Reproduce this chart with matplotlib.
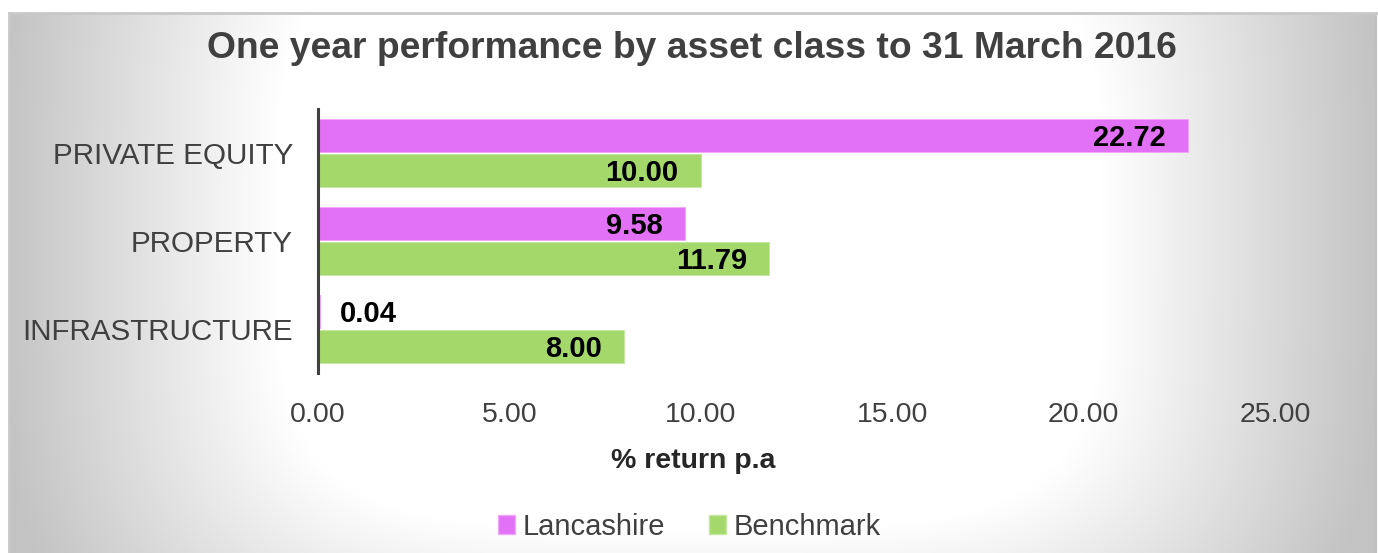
import numpy as np
import matplotlib
matplotlib.use("Agg")
import matplotlib.pyplot as plt
from matplotlib.patches import Patch

plt.rcParams['font.family'] = ['Liberation Sans', 'DejaVu Sans']

categories = ["PRIVATE EQUITY", "PROPERTY", "INFRASTRUCTURE"]
lancashire = [22.72, 9.58, 0.04]
benchmark = [10.00, 11.79, 8.00]
series_names = ["Lancashire", "Benchmark"]
xticks = [0, 5, 10, 15, 20, 25]
title = "One year performance by asset class to 31 March 2016"
xlabel = "% return p.a"

W, H = 1378, 553
fig = plt.figure(figsize=(W / 100, H / 100), dpi=100, facecolor="white")

# background gradient panel
bx0, by_top, bx1 = 9, 13, 1376
bg = fig.add_axes([bx0 / W, 0, (bx1 - bx0) / W, 1 - by_top / H])
bg.set_axis_off()
xs = np.linspace(bx0, bx1, 700)
ys = np.linspace(by_top, H, 300)
X, Y = np.meshgrid(xs, ys)
cx, cy = 690, 230
A, B = 690, 500
p = 4
r = ((np.abs(X - cx) / A) ** p + (np.abs(Y - cy) / B) ** p) ** (1 / p)
c = 255 - 60 * np.clip((r - 0.6) / 0.4, 0, 1)
img = np.dstack([c, c, c]) / 255.0
bg.imshow(img, aspect="auto", extent=[0, 1, 0, 1], interpolation="bilinear")
bg.set_xlim(0, 1)
bg.set_ylim(0, 1)
bg.plot([0, 0], [0, 1], color="#C8C8C8", lw=2, transform=bg.transAxes, clip_on=False)
bg.plot([1, 1], [0, 1], color="#C0C0C0", lw=1.5, transform=bg.transAxes, clip_on=False)
bg.plot([0, 1], [1, 1], color="#C8C8C8", lw=2, transform=bg.transAxes, clip_on=False)

# main axes
ax_l, ax_r = 318, 1275
ax_t, ax_b = 109, 373
ax = fig.add_axes([ax_l / W, 1 - ax_b / H, (ax_r - ax_l) / W, (ax_b - ax_t) / H])
ax.set_facecolor("none")

pink = "#E271F5"
green = "#A5D86B"
ypos = np.arange(len(categories))
bh = 0.38
off = 0.2
ax.barh(ypos - off, lancashire, height=bh, color=pink, edgecolor="#EFA8F8", lw=0.6, label=series_names[0])
ax.barh(ypos + off, benchmark, height=bh, color=green, edgecolor="#C4E8A0", lw=0.6, label=series_names[1])

for vals, yo in ((lancashire, -off), (benchmark, off)):
    for i, v in enumerate(vals):
        if v < 2:
            ax.annotate(f"{v:.2f}", (v, i + yo), xytext=(15, -2), textcoords="offset points",
                        ha="left", va="center", fontsize=21, fontweight="bold", color="black")
        else:
            ax.annotate(f"{v:.2f}", (v, i + yo), xytext=(-16, -2), textcoords="offset points",
                        ha="right", va="center", fontsize=21, fontweight="bold", color="black")

ax.set_xlim(0, 25)
ax.set_ylim(len(categories) - 0.5, -0.5)
ax.set_yticks(ypos)
ax.set_yticklabels(categories, fontsize=21.3, color="#404040")
ax.set_xticks(xticks)
ax.set_xticklabels([f"{t:.2f}" for t in xticks], fontsize=20.5, color="#404040")
ax.tick_params(axis="y", length=0, pad=18)
ax.tick_params(axis="x", length=0, pad=21)
for s in ("top", "right", "bottom"):
    ax.spines[s].set_visible(False)
ax.spines["left"].set_color("#404040")
ax.spines["left"].set_linewidth(2.2)
ax.spines["left"].set_zorder(5)
ax.set_xlabel(xlabel, fontsize=20.5, fontweight="bold", color="#262626", labelpad=14)
ax.xaxis.label.set_x((693 - ax_l) / (ax_r - ax_l))

fig.text(692 / W, 1 - 49 / H, title, ha="center", va="center", fontsize=26.8,
         fontweight="bold", color="#404040")

handles = [Patch(facecolor=pink, edgecolor="#EFA8F8"), Patch(facecolor=green, edgecolor="#C4E8A0")]
fig.legend(handles, series_names, loc="center", bbox_to_anchor=(689 / W, 1 - 527 / H), ncol=2,
           frameon=False, fontsize=21, handlelength=0.6, handleheight=0.6, handletextpad=0.25,
           columnspacing=1.5, labelcolor="#404040")

fig.savefig("out.png", dpi=100, facecolor="white")
